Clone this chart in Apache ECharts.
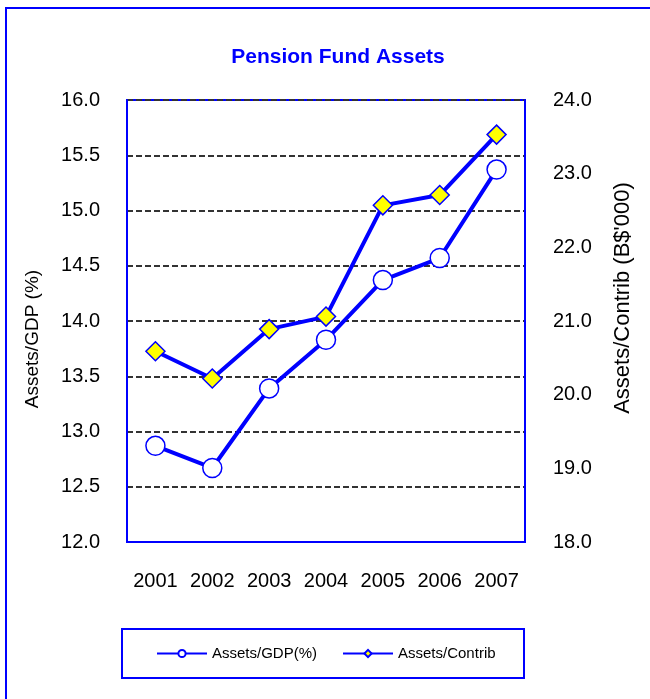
<!DOCTYPE html>
<html>
<head>
<meta charset="utf-8">
<script src="https://cdn.jsdelivr.net/npm/echarts@6/dist/echarts.min.js"></script>
<style>
  html, body { margin: 0; padding: 0; background: #fff; }
  #chart { width: 650px; height: 699px; }
</style>
</head>
<body>
<div id="chart"></div>
<script>
const years = ['2001', '2002', '2003', '2004', '2005', '2006', '2007']
const assetsGdp = [12.87, 12.67, 13.39, 13.83, 14.37, 14.57, 15.37]
const assetsContrib = [20.59, 20.22, 20.89, 21.06, 22.57, 22.71, 23.53]

const blue = '#0000FF'
const font = '"Liberation Sans", Arial, sans-serif'

const chart = echarts.init(document.getElementById('chart'))

chart.setOption({
  animation: false,
  backgroundColor: '#fff',
  title: {
    text: 'Pension Fund Assets',
    left: 333,
    top: 42,
    textAlign: 'center',
    textStyle: { color: blue, fontFamily: font, fontWeight: 'bold', fontSize: 21 }
  },
  graphic: [
    { type: 'rect', shape: { x: 6, y: 8, width: 700, height: 750 }, style: { fill: 'none', stroke: blue, lineWidth: 2 } },
    { type: 'rect', shape: { x: 122, y: 629, width: 402, height: 49 }, style: { fill: 'none', stroke: blue, lineWidth: 2 } }
  ],
  legend: {
    left: 151,
    top: 641,
    itemWidth: 50,
    itemHeight: 9,
    itemGap: 25,
    textStyle: { fontFamily: font, fontSize: 15, color: '#000' },
    data: ['Assets/GDP(%)', 'Assets/Contrib']
  },
  grid: {
    left: 127, top: 100, right: 125, bottom: 157,
    show: true, borderColor: blue, borderWidth: 2
  },
  xAxis: {
    type: 'category',
    data: years,
    axisLine: { lineStyle: { color: blue, width: 2 } },
    axisTick: { inside: true, length: 5, lineStyle: { color: blue, width: 2 } },
    axisLabel: { color: '#000', fontFamily: font, fontSize: 20, margin: 29, interval: 0 }
  },
  yAxis: [
    {
      type: 'value', min: 12, max: 16, interval: 0.5,
      name: 'Assets/GDP (%)',
      nameLocation: 'middle',
      nameGap: 85,
      nameTextStyle: { color: '#000', fontFamily: font, fontSize: 19, padding: [0, 36, 0, 0] },
      axisLine: { show: true, lineStyle: { color: blue, width: 2 } },
      axisTick: { show: false },
      axisLabel: { color: '#000', fontFamily: font, fontSize: 20, margin: 27, formatter: v => v.toFixed(1) },
      splitLine: { show: true, lineStyle: { color: '#333', width: 1.8, type: [6, 3] } }
    },
    {
      type: 'value', min: 18, max: 24, interval: 1,
      name: "Assets/Contrib (B$'000)",
      nameLocation: 'middle',
      nameGap: 87,
      nameTextStyle: { color: '#000', fontFamily: font, fontSize: 22, padding: [0, 0, 0, 46] },
      axisLine: { show: true, lineStyle: { color: blue, width: 2 } },
      axisTick: { show: false },
      axisLabel: { color: '#000', fontFamily: font, fontSize: 20, margin: 28, formatter: v => v.toFixed(1) },
      splitLine: { show: false }
    }
  ],
  series: [
    {
      name: 'Assets/GDP(%)',
      type: 'line',
      data: assetsGdp,
      yAxisIndex: 0,
      symbol: 'circle',
      symbolSize: 19,
      lineStyle: { color: blue, width: 4 },
      itemStyle: { color: '#fff', borderColor: blue, borderWidth: 1.5 },
      z: 3
    },
    {
      name: 'Assets/Contrib',
      type: 'line',
      data: assetsContrib,
      yAxisIndex: 1,
      symbol: 'diamond',
      symbolSize: 19,
      lineStyle: { color: blue, width: 4 },
      itemStyle: { color: '#FFFF00', borderColor: blue, borderWidth: 1.5 },
      z: 4
    }
  ]
})
</script>
</body>
</html>
